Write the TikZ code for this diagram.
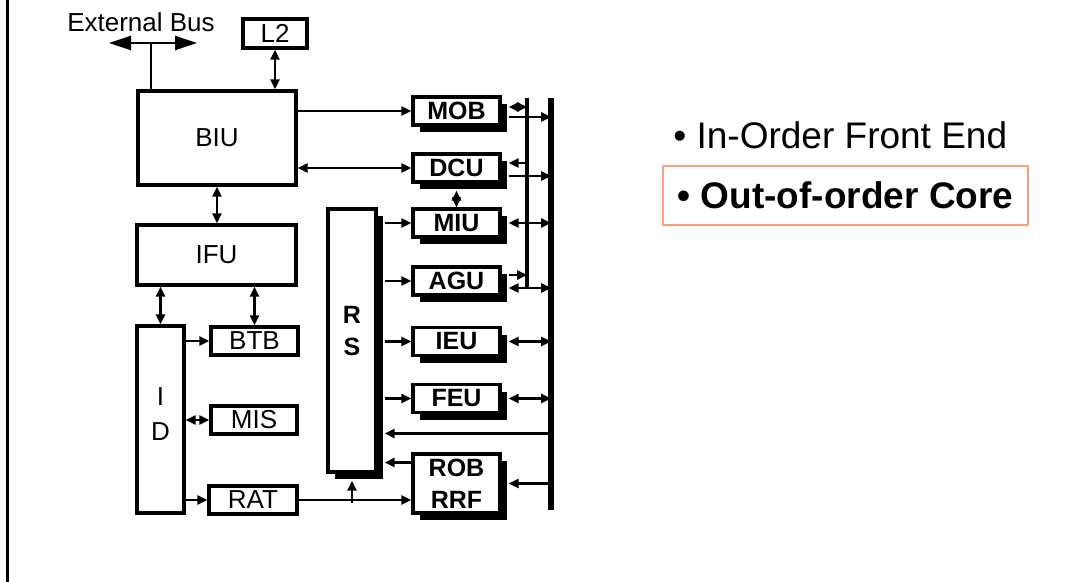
\documentclass[tikz,border=0pt]{standalone}
\usepackage{fontspec}
\setmainfont{Liberation Sans}
\usetikzlibrary{arrows.meta,positioning,calc,shadows}
\definecolor{framered}{RGB}{250,160,125}

\begin{document}
\begin{tikzpicture}[
    x=0.5pt, y=-0.5pt,
    every node/.style={font=\fontsize{13}{16}\selectfont},
    block/.style={draw, line width=1.6pt, inner sep=0pt, align=center},
    unit/.style={draw, line width=1.6pt, fill=white, inner sep=0pt, align=center, minimum width=43.5pt, minimum height=14pt, font=\fontsize{12.5}{16}\selectfont\bfseries, drop shadow={shadow xshift=3.5pt, shadow yshift=-3.5pt, fill=black, opacity=1}},
    arrow/.style={-{Triangle[length=5pt,width=4.5pt]}, line width=1.2pt},
    dblarrow/.style={{Triangle[length=5pt,width=4.5pt]}-{Triangle[length=5pt,width=4.5pt]}, line width=1.2pt},
    bigarrow/.style={{Triangle[length=11pt,width=7pt]}-{Triangle[length=11pt,width=7pt]}, line width=1.2pt},
    bus/.style={line width=2.8pt}
]
\useasboundingbox (0,0) rectangle (1079,582);
\draw[line width=1.5pt] (7,0) -- (7,582);

% front end
\node (ext) at (141,22) {External Bus};
\node[block, minimum width=32pt, minimum height=14.5pt] (l2) at (275,33.5) {L2};
\node[block, minimum width=79pt, minimum height=47pt] (biu) at (217,138) {BIU};
\node[block, minimum width=79.5pt, minimum height=30pt] (ifu) at (216.5,255) {IFU};
\node[block, minimum width=23.5pt, minimum height=93.5pt] (id) at (160.5,419.5) {};
\node[font=\fontsize{13}{17.5}\selectfont, align=center] (idlabel) at ($(id)+(0,-5)$) {I\\D};
\node[block, minimum width=43.5pt, minimum height=14pt] (btb) at (254.5,341) {BTB};
\node[block, minimum width=43pt, minimum height=14pt] (mis) at (254,420) {MIS};
\node[block, minimum width=44pt, minimum height=14pt] (rat) at (253,500) {RAT};

% out-of-order core
\node[unit, minimum width=24pt, minimum height=131.5pt] (rs) at (352,340.5) {};
\node[font=\fontsize{12.5}{16}\selectfont\bfseries, align=center] (rslabel) at ($(rs)+(0,-9)$) {R\\S};
\node[unit] (mob) at (456.5,111) {MOB};
\node[unit] (dcu) at (456.5,168) {DCU};
\node[unit] (miu) at (456.5,223) {MIU};
\node[unit] (agu) at (456.5,281) {AGU};
\node[unit] (ieu) at (456.5,341.5) {IEU};
\node[unit] (feu) at (456.5,398.5) {FEU};
\node[unit, minimum height=29.5pt] (rob) at (456.5,483.5) {ROB\\RRF};

\coordinate (b1) at (551,98);
\coordinate (b1end) at (551,510);
\coordinate (b2) at (527,98);
\coordinate (b2end) at (527,287);
\coordinate (rsx) at ($(rs.east)+(7,0)$);
\coordinate (ux) at ($(mob.east)+(7,0)$);
\coordinate (extjoin) at (151,43);

% bus interface
\draw[bigarrow] ($(extjoin)+(-42,0)$) -- ($(extjoin)+(46,0)$);
\draw[line width=1.2pt] (extjoin) -- (extjoin |- biu.north);
\draw[dblarrow] (l2.south) -- (l2.south |- biu.north);
\draw[dblarrow] (biu.south) -- (biu.south |- ifu.north);
\draw[dblarrow] (id.north |- ifu.south) -- (id.north);
\draw[dblarrow] (btb.north |- ifu.south) -- (btb.north);
\draw[arrow] (id.east |- btb.west) -- (btb.west);
\draw[dblarrow] (id.east |- mis.west) -- (mis.west);
\draw[arrow] (id.east |- rat.west) -- (rat.west);

% into the units
\draw[arrow] (biu.east |- mob.west) -- (mob.west);
\draw[dblarrow] (biu.east |- dcu.west) -- (dcu.west);
\draw[arrow] (rsx |- miu.west) -- (miu.west);
\draw[arrow] (rsx |- agu.west) -- (agu.west);
\draw[arrow] (rsx |- ieu.west) -- (ieu.west);
\draw[arrow] (rsx |- feu.west) -- (feu.west);
\draw[dblarrow] ($(dcu.south)+(0,7)$) -- (miu.north);
\draw[arrow] (rat.east) -- (rat.east -| rob.west);
\draw[arrow] ($(rs.south |- rat.east)+(0,3)$) -- ($(rs.south)+(0,7)$);
\draw[arrow] ($(rob.west)+(0,-21)$) -- ($(rsx |- rob.west)+(0,-21)$);

% writeback buses
\draw[dblarrow] ($(ux |- mob.east)+(0,-4)$) -- ($(b2 |- mob.east)+(0,-4)$);
\draw[arrow] ($(ux |- mob.east)+(0,6)$) -- ($(b1 |- mob.east)+(0,6)$);
\draw[arrow] ($(b2 |- dcu.east)+(0,-5)$) -- ($(ux |- dcu.east)+(0,-5)$);
\draw[arrow] ($(ux |- dcu.east)+(0,8)$) -- ($(b1 |- dcu.east)+(0,8)$);
\draw[dblarrow] (ux |- miu.east) -- (b1 |- miu.east);
\draw[arrow] ($(ux |- agu.east)+(0,-6)$) -- ($(b2 |- agu.east)+(0,-6)$);
\draw[dblarrow] ($(ux |- agu.east)+(0,7)$) -- ($(b1 |- agu.east)+(0,7)$);
\draw[dblarrow] (ux |- ieu.east) -- (b1 |- ieu.east);
\draw[dblarrow] (ux |- feu.east) -- (b1 |- feu.east);
\draw[arrow] ($(b1 |- feu.east)+(0,35)$) -- ($(rsx |- feu.east)+(0,35)$);
\draw[arrow] (b1 |- rob.east) -- (ux |- rob.east);
\draw[bus] (b1) -- (b1end);
\draw[line width=2pt] (b2) -- (b2end);

% bullets
\node[inner sep=0pt, anchor=west, font=\fontsize{18.5}{22}\selectfont] (front) at (673,135) {• In-Order Front End};
\node[draw=framered, line width=1pt, minimum width=182.5pt, minimum height=29.5pt, font=\fontsize{18.5}{22}\selectfont\bfseries] (core) at (845.5,195.5) {• Out-of-order Core};
\end{tikzpicture}
\end{document}
